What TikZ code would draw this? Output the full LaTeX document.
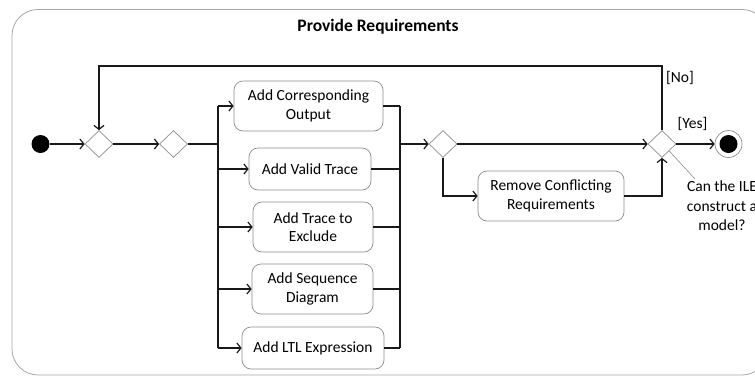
\documentclass[tikz,border=0pt]{standalone}
\usepackage{fontspec}
\setmainfont{Carlito}
\usetikzlibrary{arrows.meta,shapes.geometric}
\begin{document}
\begin{tikzpicture}[x=1pt,y=-1pt,
  font=\fontsize{15.5}{18.5}\selectfont,
  act/.style={draw=black!45, rounded corners=9pt, align=center, inner sep=0pt, line width=0.7pt},
  dec/.style={diamond, draw=black!45, minimum width=28pt, minimum height=27pt, inner sep=0pt, line width=0.7pt},
  flow/.style={line width=1.2pt, draw=black!90},
  arr/.style={flow, -{Straight Barb[length=4pt,width=10pt]}},
  memo/.style={draw=black!45, line width=0.6pt},
]
\useasboundingbox (0,0) rectangle (755,376);

% activity frame
\draw[draw=black!35, line width=0.8pt, rounded corners=26pt] (12,9.5) rectangle (768,375);
\node[font=\fontsize{17.5}{20}\selectfont\bfseries] (title) at (378,27) {Provide Requirements};

% control nodes
\node[circle, fill=black, minimum size=18pt, inner sep=0pt] (init) at (40.5,144) {};
\node[dec] (d1) at (99,144) {};
\node[dec] (d2) at (173.5,144) {};
\node[dec] (d3) at (443,144) {};
\node[dec] (d4) at (662,144) {};
\node[circle, draw=black!45, line width=0.7pt, minimum size=27pt, inner sep=0pt] (fin) at (728.5,144) {};
\node[circle, fill=black, minimum size=18pt, inner sep=0pt] (finDot) at (fin) {};

% actions
\node[act, minimum width=149pt, minimum height=50pt] (b1) at (308.5,106) {Add Corresponding\\Output};
\node[act, minimum width=122pt, minimum height=42pt] (b2) at (310,169) {Add Valid Trace};
\node[act, minimum width=120pt, minimum height=50pt] (b3) at (313,227) {Add Trace to\\Exclude};
\node[act, minimum width=121pt, minimum height=50pt] (b4) at (312.5,289) {Add Sequence\\Diagram};
\node[act, minimum width=142pt, minimum height=42pt] (b5) at (313,348) {Add LTL Expression};
\node[act, minimum width=146pt, minimum height=50pt] (rm) at (551,196) {Remove Conflicting\\Requirements};

% fork / join bars
\coordinate (fork) at (218,144);
\coordinate (forkT) at (218,106);
\coordinate (forkB) at (218,348);
\coordinate (joinT) at (400,106);
\coordinate (joinB) at (400,348);
\coordinate (loop) at (380,66);

% flows
\draw[arr] (init) -- (d1.west);
\draw[arr] (d1.east) -- (d2.west);
\draw[flow] (d2.east) -- (fork);
\draw[flow] (forkT) -- (forkB);
\draw[arr] (forkT) -- (b1.west);
\draw[arr] (forkT |- b2.west) -- (b2.west);
\draw[arr] (forkT |- b3.west) -- (b3.west);
\draw[arr] (forkT |- b4.west) -- (b4.west);
\draw[arr] (forkB) -- (b5.west);

\draw[flow] (joinT) -- (joinB);
\draw[flow] (b1.east) -- (joinT);
\draw[flow] (b2.east) -- (joinT |- b2.east);
\draw[flow] (b3.east) -- (joinT |- b3.east);
\draw[flow] (b4.east) -- (joinT |- b4.east);
\draw[flow] (b5.east) -- (joinB);
\draw[arr] (joinT |- d3.west) -- (d3.west);

\draw[arr] (d3.east) -- (d4.west);
\draw[arr] (d3.south) |- (rm.west);
\draw[arr] (rm.east) -| (d4.south);
\draw[arr] (d4.north) |- (loop) -| (d1.north);
\draw[arr] (d4.east) -- (fin.west);

% guards and note
\node (no) at (680,78) {[No]};
\node (yes) at (692.5,124) {[Yes]};
\node[align=center, font=\fontsize{15.5}{19.5}\selectfont] (note) at (722,206) {Can the ILE\\construct a\\model?};
\coordinate (noteEnd) at (695,179);
\draw[memo] (d4.south east) -- (noteEnd);
\end{tikzpicture}
\end{document}
